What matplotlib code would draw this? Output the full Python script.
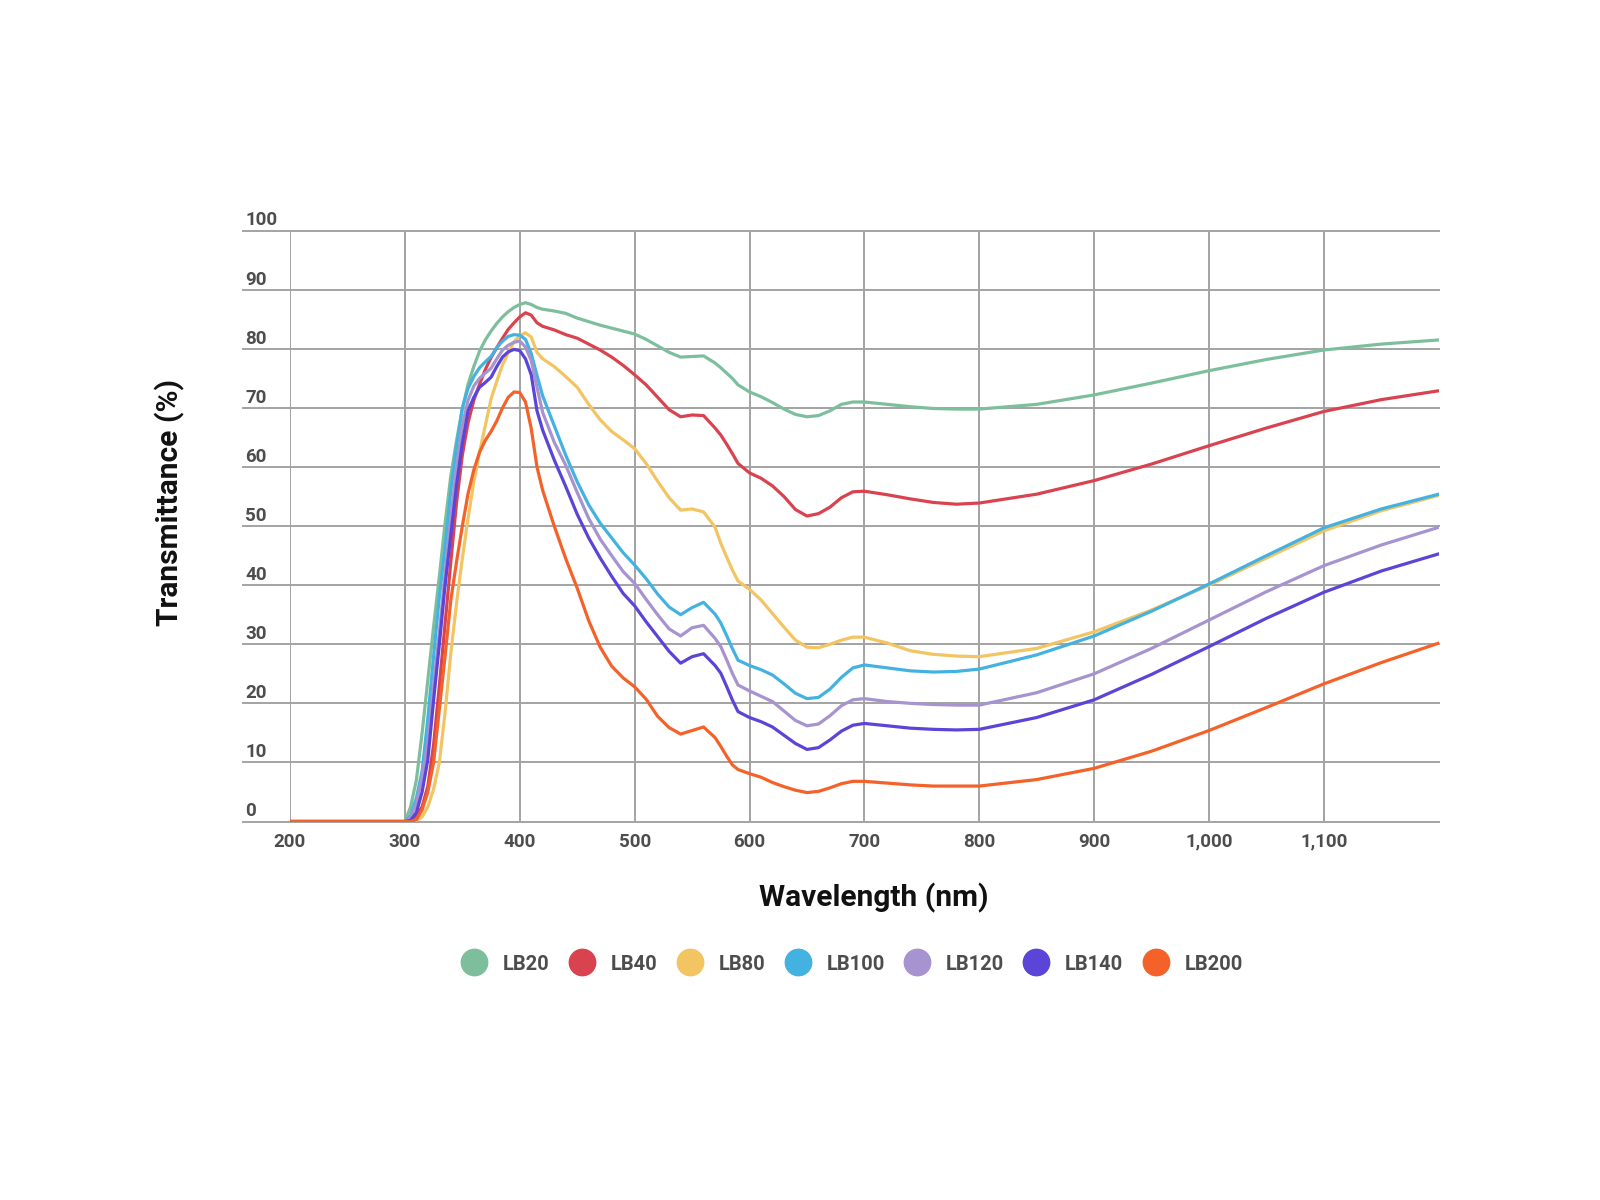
import matplotlib
matplotlib.use("Agg")
import matplotlib.pyplot as plt
from matplotlib.lines import Line2D

plt.rcParams['font.family'] = ['Roboto', 'DejaVu Sans']

# wavelength grid (nm)
wavelength = [200, 300, 305, 310, 315, 320, 325, 330, 335, 340, 345, 350, 355, 360, 365, 370, 375, 380,
              385, 390, 395, 400, 405, 410, 415, 420, 430, 440, 450, 460, 470, 480, 490, 500, 510, 520,
              530, 540, 550, 560, 570, 575, 580, 585, 590, 600, 610, 620, 630, 640, 650, 660, 670, 680, 690, 700,
              720, 740, 760, 780, 800, 850, 900, 950, 1000, 1050, 1100, 1150, 1200]

lb20 = [0, 0, 2.5, 7, 15, 24, 33, 41.5, 50.5, 58.5, 64.5, 69.8, 74, 77, 79.6, 81.5, 83, 84.3,
        85.4, 86.3, 87, 87.5, 87.8, 87.5, 87.0, 86.7, 86.4, 86.0, 85.2, 84.6, 84.0, 83.5, 83.0, 82.5, 81.6, 80.5,
        79.4, 78.6, 78.7, 78.8, 77.6, 76.8, 75.9, 75.0, 73.9, 72.7, 71.9, 70.9, 69.8, 68.9, 68.5, 68.7, 69.5, 70.6, 71.0, 71.0,
        70.6, 70.2, 69.9, 69.8, 69.8, 70.6, 72.2, 74.2, 76.3, 78.2, 79.8, 80.8, 81.5]

lb40 = [0, 0, 0.3, 1, 2.5, 6, 13, 23, 33.5, 44, 54, 62, 67.5, 71.3, 74, 76.5, 78.5, 80.2,
        81.8, 83.3, 84.4, 85.4, 86.1, 85.7, 84.4, 83.8, 83.2, 82.4, 81.8, 80.8, 79.8, 78.6, 77.2, 75.6, 73.9, 71.8,
        69.7, 68.5, 68.8, 68.7, 66.6, 65.4, 63.9, 62.3, 60.6, 59.0, 58.1, 56.8, 55.0, 52.8, 51.7, 52.1, 53.2, 54.8, 55.8, 55.9,
        55.3, 54.6, 54.0, 53.7, 53.9, 55.4, 57.7, 60.5, 63.6, 66.6, 69.4, 71.4, 72.9]

lb80 = [0, 0, 0, 0.2, 0.8, 2.5, 5.5, 10, 18.5, 28.5, 37, 44.5, 51.3, 57.5, 62.5, 67, 71.5, 74.5,
        77.3, 79.3, 81.2, 82.2, 82.7, 82, 79.4, 78.3, 77.0, 75.3, 73.5, 70.6, 68.0, 66.0, 64.6, 63.1, 60.6, 57.6,
        54.8, 52.7, 52.9, 52.4, 49.8, 47.1, 44.8, 42.6, 40.7, 39.3, 37.5, 35.2, 32.9, 30.7, 29.5, 29.4, 30.0, 30.7, 31.2, 31.2,
        30.2, 28.9, 28.3, 28.0, 27.9, 29.3, 32.1, 35.8, 40.0, 44.6, 49.2, 52.6, 55.2]

lb100 = [0, 0, 1, 4, 8.5, 17.5, 28, 38, 46.5, 56, 63.5, 70, 73.3, 75.3, 76.8, 77.8, 78.7, 80.2,
         81.3, 82.1, 82.4, 82.3, 81.6, 79.2, 75.5, 72, 67, 62, 57.5, 53.6, 50.5, 48, 45.5, 43.4, 41.1, 38.5,
         36.3, 35, 36.2, 37.1, 35.1, 33.6, 31.5, 29.3, 27.3, 26.4, 25.7, 24.8, 23.3, 21.7, 20.8, 21.0, 22.4, 24.4, 26.0, 26.5,
         26.0, 25.5, 25.3, 25.4, 25.8, 28.2, 31.4, 35.6, 40.2, 45.0, 49.7, 52.9, 55.4]

lb120 = [0, 0, 0.6, 3, 7.5, 13.5, 23, 32, 42, 51.5, 60, 67, 71.3, 73.7, 75, 75.9, 76.7, 78.3,
         79.8, 80.6, 81.1, 81.3, 80.3, 78, 73.5, 69.2, 64.2, 60.3, 55.7, 51.3, 47.8, 45, 42.3, 40.3, 37.6, 35,
         32.6, 31.4, 32.8, 33.2, 31.0, 29.6, 27.4, 25.1, 23.1, 22.1, 21.2, 20.3, 18.7, 17.1, 16.2, 16.5, 17.9, 19.6, 20.6, 20.8,
         20.3, 20.0, 19.8, 19.7, 19.7, 21.8, 25.0, 29.3, 34.1, 38.9, 43.3, 46.8, 49.8]

lb140 = [0, 0, 0.2, 1.5, 5, 10.5, 20.5, 30, 40, 48.5, 57, 64, 69.5, 71.8, 73.5, 74.3, 75.2, 77,
         78.6, 79.5, 79.9, 79.7, 78.3, 75.6, 69.5, 66.2, 61.2, 56.7, 52, 48, 44.6, 41.5, 38.6, 36.5, 33.8, 31.3,
         28.8, 26.8, 27.9, 28.4, 26.4, 25.1, 22.9, 20.6, 18.6, 17.6, 16.9, 16.0, 14.6, 13.2, 12.2, 12.5, 13.8, 15.3, 16.3, 16.6,
         16.2, 15.8, 15.6, 15.5, 15.6, 17.6, 20.6, 24.9, 29.6, 34.4, 38.8, 42.4, 45.3]

lb200 = [0, 0, 0, 0.3, 2, 5, 10, 19, 28, 37.5, 44, 50, 55.5, 59.5, 62.5, 64.5, 66, 67.8,
         70, 71.8, 72.7, 72.6, 71, 66.5, 60, 56, 50, 44.5, 39.5, 34, 29.5, 26.3, 24.3, 22.8, 20.7, 17.8,
         15.9, 14.8, 15.4, 16.0, 14.2, 12.7, 11.1, 9.6, 8.8, 8.1, 7.5, 6.6, 5.9, 5.3, 4.9, 5.1, 5.7, 6.4, 6.8, 6.8,
         6.5, 6.2, 6.0, 6.0, 6.0, 7.1, 9.0, 11.9, 15.4, 19.3, 23.3, 26.9, 30.2]

names = ['LB20', 'LB40', 'LB80', 'LB100', 'LB120', 'LB140', 'LB200']
series = [lb20, lb40, lb80, lb100, lb120, lb140, lb200]
colors = ['#7dbf9c', '#d9434f', '#f2c462', '#44b2e0', '#a793cf', '#5b45d9', '#f4622a']

x_ticks = [200, 300, 400, 500, 600, 700, 800, 900, 1000, 1100]
x_labels = ['200', '300', '400', '500', '600', '700', '800', '900', '1,000', '1,100']
y_ticks = [0, 10, 20, 30, 40, 50, 60, 70, 80, 90, 100]

fig = plt.figure(figsize=(16, 12), dpi=100)
ax = fig.add_axes([0.18125, 0.3154, 0.718, 0.4924])
ax.set_xlim(200, 1200)
ax.set_ylim(0, 100)
for s in ax.spines.values():
    s.set_visible(False)
ax.set_xticks([])
ax.set_yticks([])

grid_c = '#a3a3a3'
# horizontal grid lines run a bit left of the plot, labels sit on top of them
for y in y_ticks:
    ax.plot([159, 1200], [y, y], color=grid_c, lw=1.4, clip_on=False, zorder=1)
    ax.text(161, y + 0.2, str(y), ha='left', va='bottom', fontsize=13.5,
            fontweight='bold', color='#4d4d4d')
for x in x_ticks:
    ax.plot([x, x], [0, 100], color=grid_c, lw=1.4, zorder=1)
for x, lab in zip(x_ticks, x_labels):
    ax.text(x, -3.4, lab, ha='center', va='center', fontsize=13.5,
            fontweight='bold', color='#4d4d4d')

for name, vals, c in zip(names, series, colors):
    ax.plot(wavelength, vals, color=c, lw=2.3, label=name, zorder=3,
            solid_joinstyle='round', solid_capstyle='round')

fig.text(874 / 1600, 1 - 898 / 1200, 'Wavelength (nm)', ha='center', va='center',
         fontsize=21.5, fontweight='bold', color='#111111')
fig.text(170 / 1600, 1 - 502 / 1200, 'Transmittance (%)', ha='center', va='center',
         rotation=90, fontsize=21.5, fontweight='bold', color='#111111')

handles = [Line2D([], [], marker='o', linestyle='none', markersize=19, color=c) for c in colors]
leg = fig.legend(handles, names, loc='center', bbox_to_anchor=(852 / 1600, 1 - 964 / 1200),
                 ncol=7, frameon=False, handlelength=1.31, handletextpad=0.77, columnspacing=0.95,
                 prop={'size': 14.5, 'weight': 'bold'})
for t in leg.get_texts():
    t.set_color('#4d4d4d')

fig.savefig('out.png', dpi=100, facecolor='white')
